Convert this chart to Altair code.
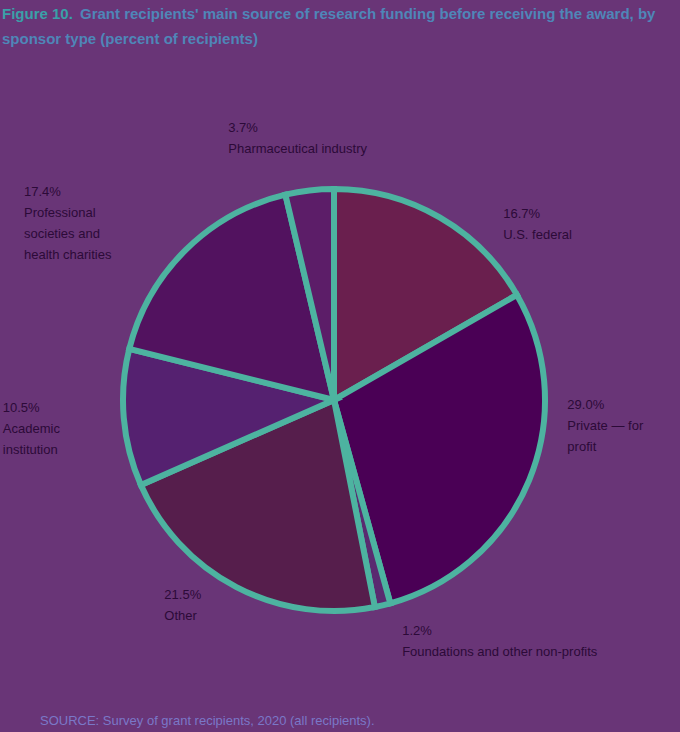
import altair as alt
import pandas as pd

# ---- data ----
categories = [
    "U.S. federal",
    "Private — for profit",
    "Foundations and other non-profits",
    "Other",
    "Academic institution",
    "Professional societies and health charities",
    "Pharmaceutical industry",
]
values = [16.7, 29.0, 1.2, 21.5, 10.5, 17.4, 3.7]
label_names = [
    "U.S. federal",
    "Private — for\nprofit",
    "Foundations and other non-profits",
    "Other",
    "Academic\ninstitution",
    "Professional\nsocieties and\nhealth charities",
    "Pharmaceutical industry",
]
colors = ["#6a1f4e", "#4a0055", "#5a2a70", "#561e4c", "#552170", "#52125f", "#5c1d68"]

title_lead = "Figure 10."
title_rest = "Grant recipients' main source of research funding before receiving the award, by"
title_line2 = "sponsor type (percent of recipients)"
footer = "SOURCE: Survey of grant recipients, 2020 (all recipients)."

# ---- layout (not data) ----
CX, CY, R = 334, 400, 211
LABEL_R = 222
offsets = {  # dx, dy per label block (align left, baseline top)
    0: (58, 0),
    1: (28, -85),
    2: (17, 9),
    3: (-67, -8),
    4: (-110, -17),
    5: (-154, -56),
    6: (-80, -57),
}
BG = "#693577"
STROKE = "#4db3a0"
TEXT = "#2c0a38"

df = pd.DataFrame({"category": categories, "value": values, "idx": range(len(values))})
df["end"] = df["value"].cumsum()
df["start"] = df["end"] - df["value"]
df["mid"] = (df["start"] + df["end"]) / 2
df["label"] = [f"{v:.1f}%\n{n}" for v, n in zip(values, label_names)]

total = float(sum(values))
theta_scale = alt.Scale(domain=[0, total])

base = alt.Chart(df)

pie = base.mark_arc(outerRadius=R, stroke=STROKE, strokeWidth=6).encode(
    theta=alt.Theta("start:Q", scale=theta_scale),
    theta2="end:Q",
    color=alt.Color("category:N", scale=alt.Scale(domain=categories, range=colors), legend=None),
    x=alt.value(CX),
    y=alt.value(CY),
)

layers = [pie]
for i, cat in enumerate(categories):
    dx, dy = offsets[i]
    layers.append(
        base.transform_filter(alt.datum.idx == i)
        .mark_text(
            radius=LABEL_R, align="left", baseline="top", dx=dx, dy=dy,
            lineBreak="\n", fontSize=13, lineHeight=21, color=TEXT, font="Liberation Sans",
        )
        .encode(
            theta=alt.Theta("mid:Q", scale=theta_scale, stack=None),
            text="label:N",
            x=alt.value(CX),
            y=alt.value(CY),
        )
    )

title_a = alt.Chart(pd.DataFrame({"t": [title_lead]})).mark_text(
    align="left", baseline="middle", fontSize=15, fontWeight="bold", color="#3aa0a8", font="Liberation Sans"
).encode(text="t:N", x=alt.value(2), y=alt.value(14))
title_b = alt.Chart(pd.DataFrame({"t": [title_rest]})).mark_text(
    align="left", baseline="middle", fontSize=15, fontWeight="bold", color="#4f86b8", font="Liberation Sans"
).encode(text="t:N", x=alt.value(80), y=alt.value(14))
title_c = alt.Chart(pd.DataFrame({"t": [title_line2]})).mark_text(
    align="left", baseline="middle", fontSize=15, fontWeight="bold", color="#4f86b8", font="Liberation Sans"
).encode(text="t:N", x=alt.value(2), y=alt.value(39))
foot = alt.Chart(pd.DataFrame({"t": [footer]})).mark_text(
    align="left", baseline="middle", fontSize=13, color="#7a78c8", font="Liberation Sans"
).encode(text="t:N", x=alt.value(40), y=alt.value(721))

chart = alt.layer(*layers, title_a, title_b, title_c, foot).properties(
    width=680, height=732, padding=0, autosize=alt.AutoSizeParams(type="none"),
    background=BG,
).configure_view(stroke=None)

chart.save("out.html", embed_options={"renderer": "svg", "actions": False})
